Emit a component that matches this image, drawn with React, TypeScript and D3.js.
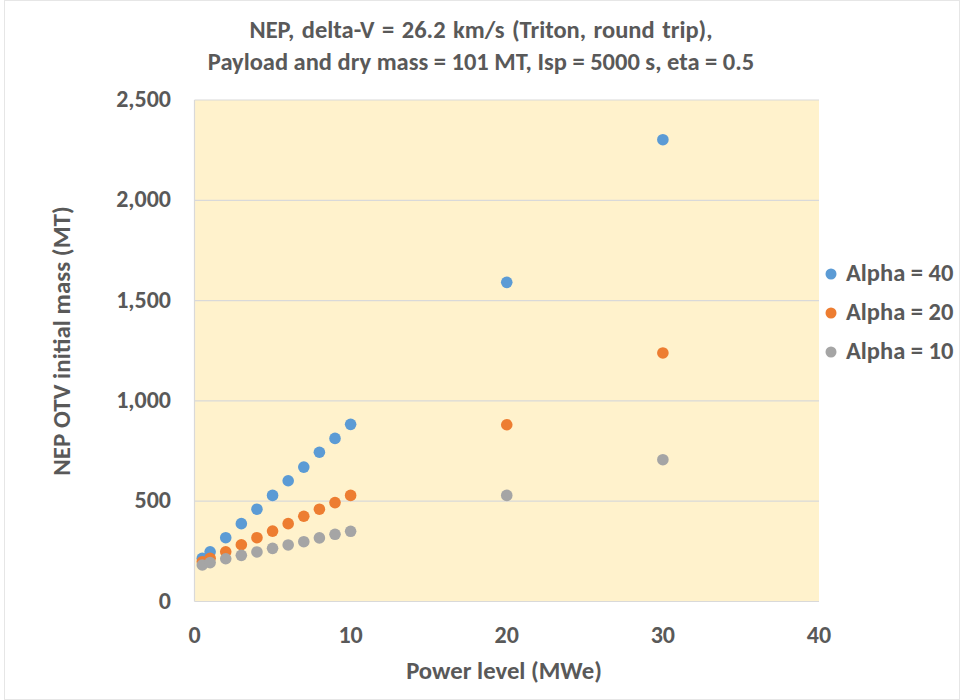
import React from "react";
import * as d3 from "d3";

const powerLevels = [0.5, 1, 2, 3, 4, 5, 6, 7, 8, 9, 10, 20, 30];
const alpha40 = [215, 248, 318, 388, 460, 529, 602, 670, 744, 813, 883, 1591, 2302];
const alpha20 = [198, 215, 248, 283, 318, 351, 388, 425, 460, 493, 529, 881, 1239];
const alpha10 = [182, 194, 213, 230, 247, 265, 282, 298, 317, 335, 350, 529, 707];
const seriesNames = ["Alpha = 40", "Alpha = 20", "Alpha = 10"];
const seriesColors = ["#5B9BD5", "#ED7D31", "#A5A5A5"];
const xTicks = [0, 10, 20, 30, 40];
const yTicks = [0, 500, 1000, 1500, 2000, 2500];
const titleLines = [
  "NEP, delta-V = 26.2 km/s (Triton, round trip),",
  "Payload and dry mass = 101 MT, Isp = 5000 s, eta = 0.5",
];

const FONT = "Carlito, Calibri, Lato, 'Open Sans', sans-serif";
const TEXT = "#595959";

export default function App() {
  const x = d3.scaleLinear().domain([0, 40]).range([194.5, 819]);
  const y = d3.scaleLinear().domain([0, 2500]).range([601.5, 100]);
  const series = [alpha40, alpha20, alpha10];
  const fmt = d3.format(",");
  return (
    <svg
      width={960}
      height={700}
      style={{ position: "absolute", left: 0, top: 0, background: "#fff" }}
      fontFamily={FONT}
    >
      <rect x={4.5} y={0.5} width={955} height={699} fill="#fff" stroke="#e6e6e6" />
      {titleLines.map((t, i) => (
        <text
          key={i}
          x={481}
          y={38 + i * 32}
          textAnchor="middle"
          fontSize={24.5}
          fontWeight="bold"
          fill={TEXT}
          wordSpacing={i === 0 ? 2 : 0}
        >
          {t}
        </text>
      ))}
      <rect
        x={x(0)}
        y={y(2500)}
        width={x(40) - x(0)}
        height={y(0) - y(2500)}
        fill="#FFF2CC"
      />
      {yTicks.map((t) => (
        <line
          key={t}
          x1={x(0)}
          x2={x(40)}
          y1={y(t)}
          y2={y(t)}
          stroke="#D9D9D9"
          strokeWidth={1.2}
        />
      ))}
      <line x1={x(0)} x2={x(0)} y1={y(0)} y2={y(2500)} stroke="#D9D9D9" strokeWidth={1.2} />
      {yTicks.map((t) => (
        <text
          key={t}
          x={171}
          y={y(t) + 7}
          textAnchor="end"
          fontSize={24}
          fontWeight="bold"
          fill={TEXT}
        >
          {fmt(t)}
        </text>
      ))}
      {xTicks.map((t) => (
        <text
          key={t}
          x={x(t)}
          y={643}
          textAnchor="middle"
          fontSize={24}
          fontWeight="bold"
          fill={TEXT}
        >
          {t}
        </text>
      ))}
      <text
        x={504}
        y={679}
        textAnchor="middle"
        fontSize={24.7}
        fontWeight="bold"
        fill={TEXT}
      >
        Power level (MWe)
      </text>
      <text
        transform={`translate(70,341) rotate(-90)`}
        textAnchor="middle"
        fontSize={25}
        fontWeight="bold"
        fill={TEXT}
      >
        NEP OTV initial mass (MT)
      </text>
      {series.map((vals, si) => (
        <g key={si}>
          {vals.map((v, i) => (
            <circle
              key={i}
              cx={x(powerLevels[i])}
              cy={y(v)}
              r={5.8}
              fill={seriesColors[si]}
            />
          ))}
        </g>
      ))}
      {seriesNames.map((n, i) => (
        <g key={n}>
          <circle cx={831} cy={274 + i * 39} r={5.5} fill={seriesColors[i]} />
          <text
            x={846}
            y={281 + i * 39}
            fontSize={24.5}
            fontWeight="bold"
            fill={TEXT}
          >
            {n}
          </text>
        </g>
      ))}
    </svg>
  );
}
